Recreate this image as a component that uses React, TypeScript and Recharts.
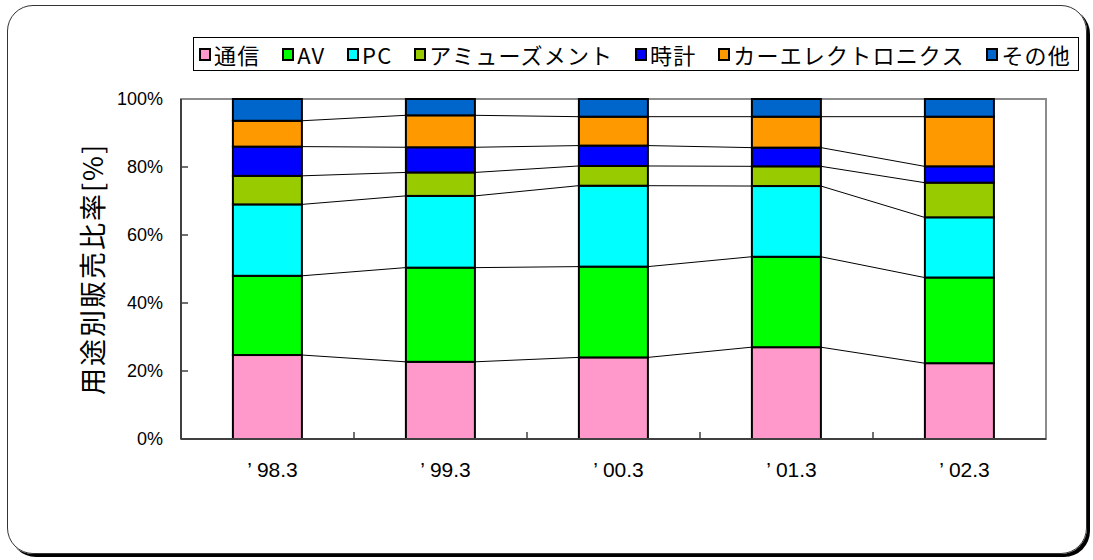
import React from 'react';
import { BarChart, Bar, XAxis, YAxis, ReferenceArea } from 'recharts';

const periods = ['’ 98.3', '’ 99.3', '’ 00.3', '’ 01.3', '’ 02.3'];
const tsushin = [24.7, 22.7, 24.0, 27.0, 22.3];
const av = [23.3, 27.7, 26.7, 26.6, 25.2];
const pc = [21.0, 21.1, 23.8, 20.8, 17.7];
const amusement = [8.4, 6.9, 5.8, 5.8, 10.2];
const clock = [8.6, 7.4, 6.0, 5.5, 4.8];
const carElec = [7.6, 9.4, 8.5, 9.1, 14.6];
const other = [6.4, 4.8, 5.2, 5.2, 5.2];
const yTicks = [0, 20, 40, 60, 80, 100];

const series = [
  { key: 'tsushin', name: '通信', values: tsushin, color: '#FF99CC' },
  { key: 'av', name: 'AV', values: av, color: '#00FF00' },
  { key: 'pc', name: 'PC', values: pc, color: '#00FFFF' },
  { key: 'amusement', name: 'アミューズメント', values: amusement, color: '#99CC00' },
  { key: 'clock', name: '時計', values: clock, color: '#0000FF' },
  { key: 'carElec', name: 'カーエレクトロニクス', values: carElec, color: '#FF9900' },
  { key: 'other', name: 'その他', values: other, color: '#0066CC' },
];

const data = periods.map((p, i) => {
  const row: any = { period: p };
  series.forEach((s) => { row[s.key] = s.values[i]; });
  return row;
});

const CAT_GAP = 0.3;
const Y_MARGIN = 18;
const X_MARGIN = 23;
const FONT = '"Liberation Sans", Arial, "Noto Sans CJK JP", sans-serif';
const JP_FONT = '"Noto Sans CJK JP", "Liberation Sans", sans-serif';

// cumulative top of series k at category i
const cumTop = (k: number, i: number) => {
  let sum = 0;
  for (let j = 0; j <= k; j++) sum += series[j].values[i];
  return sum;
};

// segment rect plus the Excel style series line to the next bar
const makeShape = (k: number) => (props: any) => {
  const { x, y, width, height, index, fill } = props;
  const val = series[k].values[index];
  let link = null;
  if (k < series.length - 1 && index < periods.length - 1 && val > 0) {
    const ppu = height / val;
    const zeroY = y + cumTop(k, index) * ppu;
    const step = width / (1 - 2 * CAT_GAP);
    link = (
      <line
        x1={x + width}
        y1={y}
        x2={x + step}
        y2={zeroY - cumTop(k, index + 1) * ppu}
        stroke="#000"
        strokeWidth={1}
      />
    );
  }
  return (
    <g>
      <rect x={x} y={y} width={width} height={height} fill={fill} stroke="#000" strokeWidth={2} />
      {link}
    </g>
  );
};

const renderYTick = (props: any) => {
  const { x, y, payload } = props;
  return (
    <g>
      <text x={x} y={y} textAnchor="end" dominantBaseline="central" fontSize={18} fill="#000" fontFamily={FONT}>
        {payload.value}%
      </text>
      {payload.value > 0 && payload.value < 100 && (
        <line x1={x + Y_MARGIN} x2={x + Y_MARGIN + 7} y1={y} y2={y} stroke="#404040" strokeWidth={1.5} />
      )}
    </g>
  );
};

const renderXTick = (props: any) => {
  const { x, y, payload, index } = props;
  const half = payload.offset;
  return (
    <g>
      <text x={x + 5} y={y} dy="0.71em" textAnchor="middle" fontSize={21} fill="#000" fontFamily={FONT}>
        {payload.value}
      </text>
      {half != null && index < periods.length - 1 && (
        <line x1={x + half} x2={x + half} y1={y - X_MARGIN} y2={y - X_MARGIN - 7} stroke="#404040" strokeWidth={1.5} />
      )}
    </g>
  );
};

const renderYLabel = (props: any) => {
  const { viewBox } = props;
  const cx = viewBox.x + 10;
  const cy = viewBox.y + viewBox.height / 2;
  return (
    <text
      x={cx}
      y={cy}
      transform={`rotate(-90 ${cx} ${cy})`}
      textAnchor="middle"
      dominantBaseline="central"
      fontSize={27}
      letterSpacing={2}
      fill="#000"
      fontFamily={JP_FONT}
    >
      用途別販売比率[%]
    </text>
  );
};

export default function App() {
  return (
    <div style={{ position: 'absolute', left: 0, top: 0, width: 1093, height: 560, background: '#fff' }}>
      {/* rounded frame */}
      <div
        style={{
          position: 'absolute',
          left: 7,
          top: 5,
          width: 1080,
          height: 549,
          boxSizing: 'border-box',
          border: '1.5px solid #333',
          borderRadius: 26,
          boxShadow: '3px 3px 0 #000',
        }}
      />
      <div style={{ position: 'absolute', left: 0, top: 0 }}>
        <BarChart
          width={1093}
          height={560}
          data={data}
          margin={{ top: 99, right: 47, bottom: 81, left: 81 }}
          barCategoryGap={`${CAT_GAP * 100}%`}
        >
          <ReferenceArea y1={0} y2={100} fill="none" stroke="#8c8c8c" strokeWidth={2} />
          <XAxis
            dataKey="period"
            height={40}
            tickSize={0}
            tickMargin={X_MARGIN}
            tick={renderXTick}
            axisLine={{ stroke: '#404040', strokeWidth: 2 }}
          />
          <YAxis
            domain={[0, 100]}
            ticks={yTicks}
            width={100}
            tickSize={0}
            tickMargin={Y_MARGIN}
            tick={renderYTick}
            axisLine={{ stroke: '#404040', strokeWidth: 2 }}
            label={renderYLabel}
          />
          {series.map((s, k) => (
            <Bar
              key={s.key}
              dataKey={s.key}
              name={s.name}
              stackId="a"
              fill={s.color}
              shape={makeShape(k)}
              isAnimationActive={false}
            />
          ))}
        </BarChart>
      </div>
      {/* legend */}
      <div
        style={{
          position: 'absolute',
          left: 193,
          top: 37,
          width: 886,
          height: 34,
          boxSizing: 'border-box',
          border: '1px solid #000',
          background: '#fff',
          display: 'flex',
          alignItems: 'center',
          justifyContent: 'space-between',
          padding: '0 7px 0 5px',
          fontFamily: JP_FONT,
          fontSize: 22,
          letterSpacing: 1.2,
          color: '#000',
        }}
      >
        {series.map((s) => (
          <div key={s.key} style={{ display: 'flex', alignItems: 'center' }}>
            <span
              style={{
                display: 'inline-block',
                width: 8,
                height: 9,
                background: s.color,
                border: '2px solid #000',
                marginRight: 3,
              }}
            />
            <span style={{ lineHeight: '34px' }}>{s.name}</span>
          </div>
        ))}
      </div>
    </div>
  );
}
